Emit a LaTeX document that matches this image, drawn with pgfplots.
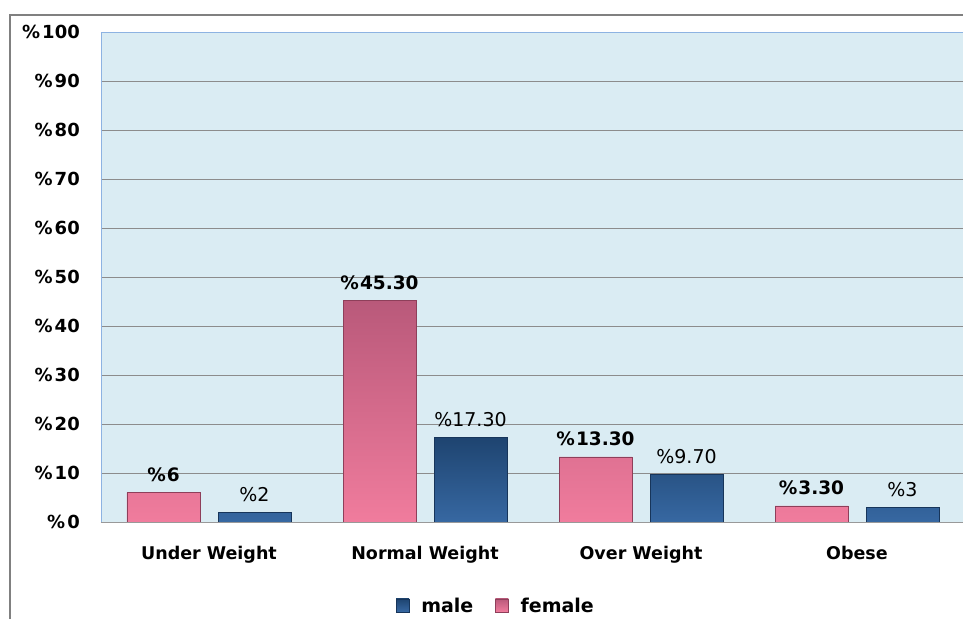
\documentclass[border=0pt]{standalone}
\usepackage{pgfplots}
\pgfplotsset{compat=1.18}
\usepackage{fontspec}
\setmainfont{DejaVu Sans}

\definecolor{plotbg}{HTML}{DAECF3}
\definecolor{plotedge}{HTML}{8DB3E2}
\definecolor{femtop}{HTML}{B9597A}
\definecolor{fembot}{HTML}{F07C9D}
\definecolor{femline}{HTML}{8E3F5A}
\definecolor{maltop}{HTML}{1E4470}
\definecolor{malbot}{HTML}{3768A2}
\definecolor{malline}{HTML}{17355A}

\begin{document}
\begin{tikzpicture}
    % page = 963 x 619, axis box lower left at (0,0)
    \useasboundingbox (-101pt,-97pt) rectangle (862pt,522pt);
    \draw[line width=2pt, color=black!50] (-91pt,-97pt) -- (-91pt,507pt) -- (862pt,507pt);
    \begin{axis}[
        scale only axis,
        width=864pt, height=490pt,
        at={(0pt,0pt)}, anchor=south west,
        xmin=-0.5, xmax=3.5,
        ymin=0, ymax=100,
        ybar=18pt, bar width=73pt,
        axis background/.style={fill=plotbg},
        axis line style={plotedge, line width=0.8pt},
        ymajorgrids,
        grid style={black!45, line width=0.8pt},
        xtick={0,1,2,3},
        xticklabels={Under Weight, Normal Weight, Over Weight, Obese},
        ytick={0,10,...,100},
        yticklabels={\%\kern2pt0,\%\kern2pt10,\%\kern2pt20,\%\kern2pt30,\%\kern2pt40,\%\kern2pt50,\%\kern2pt60,\%\kern2pt70,\%\kern2pt80,\%\kern2pt90,\%\kern2pt100},
        major tick length=0pt,
        yticklabel style={font=\bfseries\fontsize{18}{21}\selectfont, anchor=east, inner sep=0pt, xshift=-21pt},
        xticklabel style={font=\bfseries\fontsize{17.5}{20}\selectfont, anchor=base, inner sep=0pt, yshift=-37pt},
        legend style={
            at={(0.457,-0.171)}, anchor=center,
            draw=none, fill=none,
            font=\bfseries\fontsize{19}{22}\selectfont,
            /tikz/every odd column/.append style={column sep=10pt},
            /tikz/every even column/.append style={column sep=20pt},
        },
        legend columns=-1,
        reverse legend,
        legend image code/.code={\draw[#1] (0pt,-6pt) rectangle (13pt,7pt);},
        point meta=explicit symbolic,
        nodes near coords={\pgfplotspointmeta},
        clip=false,
    ]
        \addplot[draw=femline, top color=femtop, bottom color=fembot,
            nodes near coords style={font=\bfseries\fontsize{18.5}{22}\selectfont, anchor=base, inner sep=0pt, yshift=11pt, text=black}]
            coordinates {
            (0, 6)    [\%\kern1pt6]
            (1, 45.3) [\%\kern1pt45.30]
            (2, 13.3) [\%\kern1pt13.30]
            (3, 3.3)  [\%\kern1pt3.30]
        };
        \addlegendentry{female}
        \addplot[draw=malline, top color=maltop, bottom color=malbot,
            nodes near coords style={font=\fontsize{19}{22}\selectfont, anchor=base, inner sep=0pt, yshift=11pt, text=black}]
            coordinates {
            (0, 2)    [\%2]
            (1, 17.3) [\%17.30]
            (2, 9.7)  [\%9.70]
            (3, 3)    [\%3]
        };
        \addlegendentry{male}
        \draw[black!40, line width=1pt] (axis cs:-0.5,0) -- (axis cs:3.5,0);
    \end{axis}
\end{tikzpicture}
\end{document}
